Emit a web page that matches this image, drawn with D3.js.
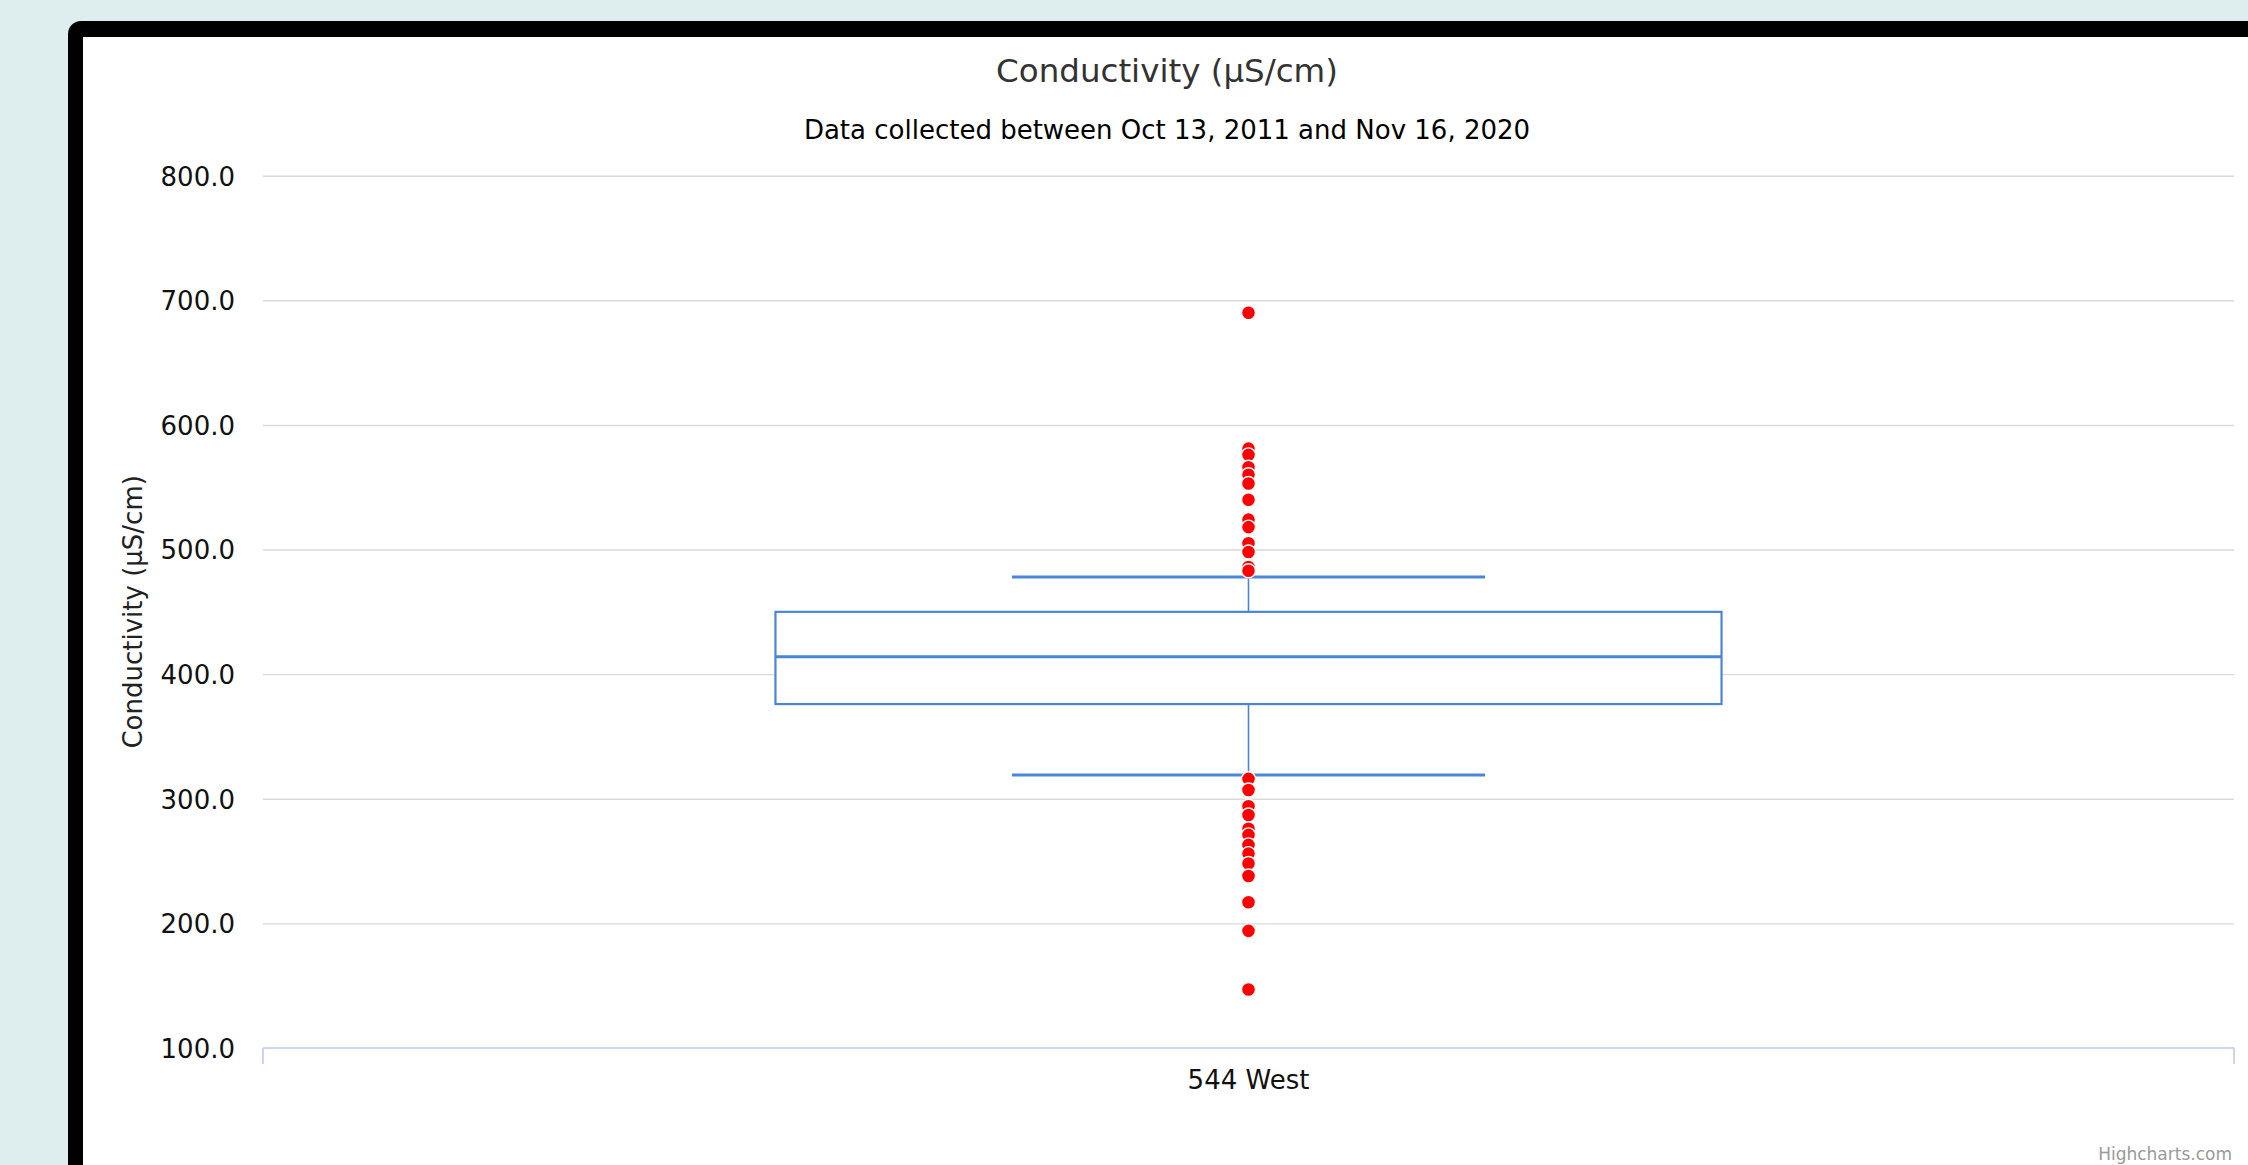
<!DOCTYPE html>
<html>
<head>
<meta charset="utf-8">
<script src="https://cdn.jsdelivr.net/npm/d3@7"></script>
<style>
  body { margin: 0; background: #deeeee; }
  svg { display: block; }
</style>
</head>
<body>
<div id="viz"></div>
<script>
var width = 2248,
    height = 1165,
    margin = {top: 175.7, right: 14, bottom: 117, left: 263};

// chart values
var categories = ["544 West"];
var boxLow = [319],
    boxQ1 = [376],
    boxMedian = [414],
    boxQ3 = [450],
    boxHigh = [478];
var outliers = [690, 581, 576, 566, 560, 553, 540, 524, 518, 505, 498, 486, 483,
                316, 307, 294, 287, 276, 271, 263, 256, 248, 238, 217, 194, 147];
var yTicks = [100, 200, 300, 400, 500, 600, 700, 800];

var blue = "#4a86d8";

var boxes = categories.map(function(c, i) {
  return {cat: c, low: boxLow[i], q1: boxQ1[i], median: boxMedian[i], q3: boxQ3[i], high: boxHigh[i]};
});

var svg = d3.select("#viz").append("svg")
    .attr("width", width)
    .attr("height", height);

// frame
svg.append("rect")
    .attr("x", 68).attr("y", 21)
    .attr("width", width).attr("height", height)
    .attr("rx", 13)
    .attr("fill", "#000");
svg.append("rect")
    .attr("x", 83).attr("y", 37)
    .attr("width", width).attr("height", height)
    .attr("fill", "#fff");

var x = d3.scaleBand()
    .domain(categories)
    .range([margin.left, width - margin.right])
    .paddingInner(0)
    .paddingOuter(0);

var y = d3.scaleLinear()
    .domain([100, 800])
    .range([height - margin.bottom, margin.top]);

var boxWidth = x.bandwidth() * 0.48;

// titles
svg.append("text")
    .attr("x", 1167).attr("y", 82)
    .attr("text-anchor", "middle")
    .attr("font-family", "DejaVu Sans")
    .attr("font-size", 32.5)
    .attr("fill", "#333")
    .text("Conductivity (µS/cm)");

svg.append("text")
    .attr("x", 1167).attr("y", 139)
    .attr("text-anchor", "middle")
    .attr("font-family", "DejaVu Sans")
    .attr("font-size", 26)
    .attr("fill", "#000")
    .text("Data collected between Oct 13, 2011 and Nov 16, 2020");

// y grid + labels
var yAxis = svg.append("g")
    .attr("class", "y axis")
    .attr("transform", "translate(" + margin.left + ",0)")
    .call(d3.axisLeft(y).tickValues(yTicks).tickFormat(d3.format(".1f"))
      .tickSize(-(width - margin.left - margin.right)).tickPadding(28))
    .call(g => g.select(".domain").remove());

yAxis.selectAll(".tick line")
    .attr("stroke", "#d9d9d9")
    .attr("stroke-width", 1.4);
yAxis.selectAll(".tick:first-of-type line").remove();
yAxis.selectAll(".tick text")
    .attr("font-family", "DejaVu Sans")
    .attr("font-size", 26)
    .attr("fill", "#111")
    .attr("dy", "0.36em");

svg.append("text")
    .attr("transform", "translate(142," + ((y.range()[0] + y.range()[1]) / 2) + ") rotate(-90)")
    .attr("text-anchor", "middle")
    .attr("font-family", "DejaVu Sans")
    .attr("font-size", 26)
    .attr("fill", "#222")
    .text("Conductivity (µS/cm)");

// x axis
var xAxis = svg.append("g").attr("class", "x axis");
xAxis.append("line")
    .attr("x1", x.range()[0]).attr("x2", x.range()[1])
    .attr("y1", y(100)).attr("y2", y(100))
    .attr("stroke", "#ccd6eb").attr("stroke-width", 2);
xAxis.selectAll(".xtick")
    .data(x.range())
    .join("line")
    .attr("x1", d => d).attr("x2", d => d)
    .attr("y1", y(100)).attr("y2", y(100) + 16)
    .attr("stroke", "#ccd6eb").attr("stroke-width", 2);
xAxis.selectAll(".xlabel")
    .data(categories)
    .join("text")
    .attr("x", d => x(d) + x.bandwidth() / 2)
    .attr("y", 1089)
    .attr("text-anchor", "middle")
    .attr("font-family", "DejaVu Sans")
    .attr("font-size", 26)
    .attr("fill", "#111")
    .text(d => d);

// boxes
var box = svg.selectAll(".box")
    .data(boxes)
    .join("g")
    .attr("class", "box");

var cx = d => x(d.cat) + x.bandwidth() / 2;

box.append("line") // stem
    .attr("x1", cx).attr("x2", cx)
    .attr("y1", d => y(d.high)).attr("y2", d => y(d.low))
    .attr("stroke", blue).attr("stroke-width", 1.6);

box.append("rect")
    .attr("x", d => cx(d) - boxWidth / 2)
    .attr("width", boxWidth)
    .attr("y", d => y(d.q3))
    .attr("height", d => y(d.q1) - y(d.q3))
    .attr("fill", "#fff")
    .attr("stroke", blue).attr("stroke-width", 2.2);

box.append("line") // median
    .attr("x1", d => cx(d) - boxWidth / 2).attr("x2", d => cx(d) + boxWidth / 2)
    .attr("y1", d => y(d.median)).attr("y2", d => y(d.median))
    .attr("stroke", blue).attr("stroke-width", 3);

["high", "low"].forEach(function(k) {
  box.append("line")
      .attr("x1", d => cx(d) - boxWidth / 4).attr("x2", d => cx(d) + boxWidth / 4)
      .attr("y1", d => y(d[k])).attr("y2", d => y(d[k]))
      .attr("stroke", blue).attr("stroke-width", 3);
});

// outliers
svg.append("g").selectAll("circle")
    .data(outliers)
    .join("circle")
    .attr("cx", cx(boxes[0]))
    .attr("cy", d => y(d))
    .attr("r", 7)
    .attr("fill", "#ff0000")
    .attr("stroke", "#fff")
    .attr("stroke-width", 1.4);

// credit
svg.append("text")
    .attr("x", 2232).attr("y", 1160)
    .attr("text-anchor", "end")
    .attr("font-family", "DejaVu Sans")
    .attr("font-size", 17)
    .attr("fill", "#999")
    .text("Highcharts.com");
</script>
</body>
</html>
